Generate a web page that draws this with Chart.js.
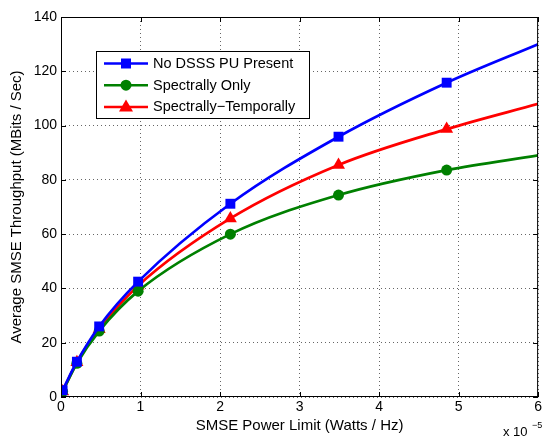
<!DOCTYPE html>
<html>
<head>
<meta charset="utf-8">
<script src="https://cdn.jsdelivr.net/npm/chart.js@4/dist/chart.umd.min.js"></script>
<style>
  html, body { margin: 0; padding: 0; background: #fff; }
  #wrap { width: 544px; height: 439px; }
</style>
</head>
<body>
<div id="wrap"><canvas id="grafico"></canvas></div>
<script>
// power limit (x 10^-5 Watts / Hz)
const potencia = [0.02, 0.2, 0.48, 0.97, 2.13, 3.49, 4.85, 6];
const semPU = [2.5, 13, 26, 42.5, 71.2, 95.9, 115.8, 130];
const espectral = [2, 12.4, 24.3, 39, 60, 74.4, 83.6, 89];
const espectralTemporal = [2, 12.8, 25, 41, 65.8, 85.5, 98.7, 108];
const ticksX = [0, 1, 2, 3, 4, 5, 6];
const ticksY = [0, 20, 40, 60, 80, 100, 120, 140];

const FONTE = 'Liberation Sans, Arial, sans-serif';

function pontos(valores) {
    return potencia.map((x, i) => ({ x: x, y: valores[i] }));
}
// last point is only the curve end, no marker
function raios(r) {
    return potencia.map((_, i) => i === potencia.length - 1 ? 0 : r);
}

const series = [
    { label: 'No DSSS PU Present', data: pontos(semPU), cor: '#0000ff', estilo: 'rect', raio: raios(7) },
    { label: 'Spectrally Only', data: pontos(espectral), cor: '#008000', estilo: 'circle', raio: raios(5.5) },
    { label: 'Spectrally\u2212Temporally', data: pontos(espectralTemporal), cor: '#ff0000', estilo: 'triangle', raio: raios(7.5) }
];

const molduraPlugin = {
    id: 'moldura',
    afterDatasetsDraw(chart) {
        const { ctx, chartArea: a, scales } = chart;
        ctx.save();
        ctx.strokeStyle = '#000';
        ctx.lineWidth = 1;
        ctx.strokeRect(a.left + 0.5, a.top + 0.5, a.right - a.left - 1, a.bottom - a.top - 1);
        // inward ticks
        ctx.beginPath();
        ticksX.forEach(v => {
            const px = Math.round(scales.x.getPixelForValue(v)) + 0.5;
            ctx.moveTo(px, a.bottom); ctx.lineTo(px, a.bottom - 5);
            ctx.moveTo(px, a.top); ctx.lineTo(px, a.top + 5);
        });
        ticksY.forEach(v => {
            const py = Math.round(scales.y.getPixelForValue(v)) + 0.5;
            ctx.moveTo(a.left, py); ctx.lineTo(a.left + 5, py);
            ctx.moveTo(a.right, py); ctx.lineTo(a.right - 5, py);
        });
        ctx.stroke();

        // exponent label
        ctx.fillStyle = '#000';
        ctx.font = '13px ' + FONTE;
        ctx.textBaseline = 'alphabetic';
        ctx.fillText('x 10', 503, 436);
        ctx.font = '9px ' + FONTE;
        ctx.fillText('\u22125', 532, 428);

        // legend box
        const bx = 96, by = 51, bw = 213, bh = 67;
        ctx.fillStyle = '#fff';
        ctx.fillRect(bx, by, bw, bh);
        ctx.strokeRect(bx + 0.5, by + 0.5, bw, bh);
        series.forEach((s, i) => {
            const y = 63.5 + i * 21.7;
            ctx.strokeStyle = s.cor;
            ctx.lineWidth = 2.5;
            ctx.beginPath();
            ctx.moveTo(104, y); ctx.lineTo(148, y);
            ctx.stroke();
            ctx.fillStyle = s.cor;
            ctx.beginPath();
            if (s.estilo === 'rect') {
                ctx.rect(121, y - 5, 10, 10);
            } else if (s.estilo === 'circle') {
                ctx.arc(126, y, 5.5, 0, Math.PI * 2);
            } else {
                ctx.moveTo(126, y - 7.5); ctx.lineTo(133, y + 4.5); ctx.lineTo(119, y + 4.5); ctx.closePath();
            }
            ctx.fill();
            ctx.fillStyle = '#000';
            ctx.font = '14.5px ' + FONTE;
            ctx.textBaseline = 'middle';
            ctx.fillText(s.label, 153, y + 0.5);
        });
        ctx.restore();
    }
};

const ctx = document.getElementById('grafico').getContext('2d');
new Chart(ctx, {
    type: 'scatter',
    data: {
        datasets: series.map(s => ({
            label: s.label,
            data: s.data,
            showLine: true,
            borderColor: s.cor,
            backgroundColor: s.cor,
            borderWidth: 2.7,
            pointStyle: s.estilo,
            pointRadius: s.raio,
            pointBorderWidth: 0,
            cubicInterpolationMode: 'monotone'
        }))
    },
    options: {
        responsive: true,
        maintainAspectRatio: false,
        animation: false,
        layout: { autoPadding: false, padding: { left: 0, right: -1, top: 17, bottom: 0 } },
        plugins: {
            legend: { display: false },
            tooltip: { enabled: false }
        },
        scales: {
            x: {
                type: 'linear',
                min: 0,
                max: 6,
                afterBuildTicks: scale => { scale.ticks = ticksX.map(v => ({ value: v })); },
                afterFit: scale => { scale.height = 42; },
                ticks: { color: '#000', font: { family: FONTE, size: 14 }, padding: 2 },
                grid: { color: '#666', drawTicks: false, lineWidth: 1 },
                border: { display: false, dash: [1, 3] },
                title: { display: true, text: 'SMSE Power Limit (Watts / Hz)', color: '#000', font: { family: FONTE, size: 15 }, padding: { top: 0, bottom: 4 } }
            },
            y: {
                min: 0,
                max: 140,
                afterBuildTicks: scale => { scale.ticks = ticksY.map(v => ({ value: v })); },
                afterFit: scale => { scale.width = 61; },
                ticks: { color: '#000', font: { family: FONTE, size: 14 }, padding: 4 },
                grid: { color: '#666', drawTicks: false, lineWidth: 1 },
                border: { display: false, dash: [1, 3] },
                title: { display: true, text: 'Average SMSE Throughput (MBits / Sec)', color: '#000', font: { family: FONTE, size: 15 }, padding: { top: 8, bottom: 0 } }
            }
        }
    },
    plugins: [molduraPlugin]
});
</script>
</body>
</html>
